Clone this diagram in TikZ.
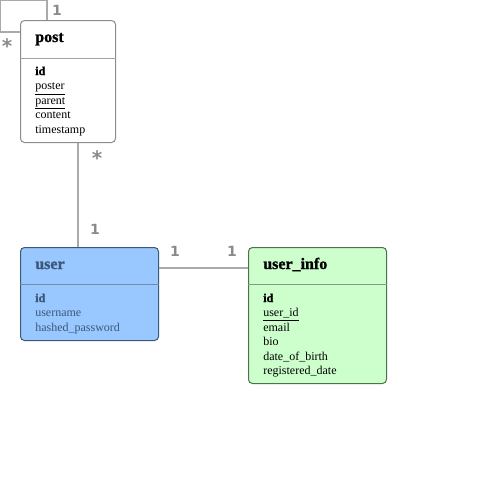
\documentclass[tikz,border=0pt]{standalone}
\usepackage{fontspec}
\setmainfont{Liberation Serif}
\setsansfont{DejaVu Sans}
\newfontfamily\heavyserif[FakeBold=1.2]{Liberation Serif Bold}
\usetikzlibrary{positioning}

\definecolor{postline}{HTML}{8C8C8C}
\definecolor{userfill}{HTML}{99C7FF}
\definecolor{userline}{HTML}{3B5878}
\definecolor{infofill}{HTML}{CCFFCC}
\definecolor{infoline}{HTML}{4D704D}
\definecolor{linkgray}{HTML}{AAAAAA}
\definecolor{multgray}{HTML}{8A8A8A}

\newcommand{\keyfield}[1]{{\heavyserif #1}}

\begin{document}
\begin{tikzpicture}[x=0.75pt,y=-0.75pt,
    entity/.style={draw,rounded corners=3pt,inner sep=0pt,anchor=north west,line width=0.75pt},
    title/.style={anchor=base west,inner sep=0pt,font=\fontsize{12}{14}\selectfont\heavyserif},
    field/.style={anchor=base west,inner sep=0pt,font=\fontsize{9}{11}\selectfont},
    link/.style={draw=linkgray,line width=0.9pt},
    mult/.style={text=multgray,inner sep=0pt,font=\fontsize{10.5}{12}\selectfont\sffamily\bfseries},
    many/.style={mult,font=\fontsize{15}{16}\selectfont\sffamily\bfseries}]
    \useasboundingbox (0,0) rectangle (496,493);

    % entities
    \node[entity,draw=postline,fill=white,minimum width=95*0.75pt,minimum height=122*0.75pt] (post) at (20,20) {};
    \node[entity,draw=userline,fill=userfill,minimum width=138*0.75pt,minimum height=93*0.75pt] (user) at (20,247) {};
    \node[entity,draw=infoline,fill=infofill,minimum width=138*0.75pt,minimum height=136*0.75pt] (info) at (248,247) {};

    \draw[postline!80,line width=0.75pt] (post.west |- 0,58) -- (post.east |- 0,58);
    \draw[userline!70,line width=0.75pt] (user.west |- 0,284) -- (user.east |- 0,284);
    \draw[infoline!70,line width=0.75pt] (info.west |- 0,284) -- (info.east |- 0,284);

    \node[title] (post title) at (35,42) {post};
    \node[title,text=userline] (user title) at (35,269) {user};
    \node[title] (info title) at (263,269) {user\_info};

    \foreach \f [count=\i from 0] in {\keyfield{id},\underline{poster},\underline{parent},content,timestamp}
        \node[field] (post f\i) at (35,75+14.5*\i) {\f};
    \foreach \f [count=\i from 0] in {\keyfield{id},username,hashed\_password}
        \node[field,text=userline] (user f\i) at (35,302+14.5*\i) {\f};
    \foreach \f [count=\i from 0] in {\keyfield{id},\underline{user\_id},email,bio,date\_of\_birth,registered\_date}
        \node[field] (info f\i) at (263,302+14.5*\i) {\f};

    % relations
    \coordinate (loop top) at (47,0.5);
    \coordinate (loop left) at (0.5,32);
    \coordinate (pu) at (78,0);
    \coordinate (ui) at (0,268);
    \draw[link] (post.north -| loop top) -- (loop top) -| (loop left) -- (post.west |- loop left);
    \draw[link] (post.south -| pu) -- (user.north -| pu);
    \draw[link] (user.east |- ui) -- (info.west |- ui);

    \node[mult] (m1) at (57,10) {1};
    \node[many] (m2) at (7,46) {*};
    \node[many] (m3) at (97,158) {*};
    \node[mult] (m4) at (95,229) {1};
    \node[mult] (m5) at (175,251) {1};
    \node[mult] (m6) at (232,251) {1};
\end{tikzpicture}
\end{document}
